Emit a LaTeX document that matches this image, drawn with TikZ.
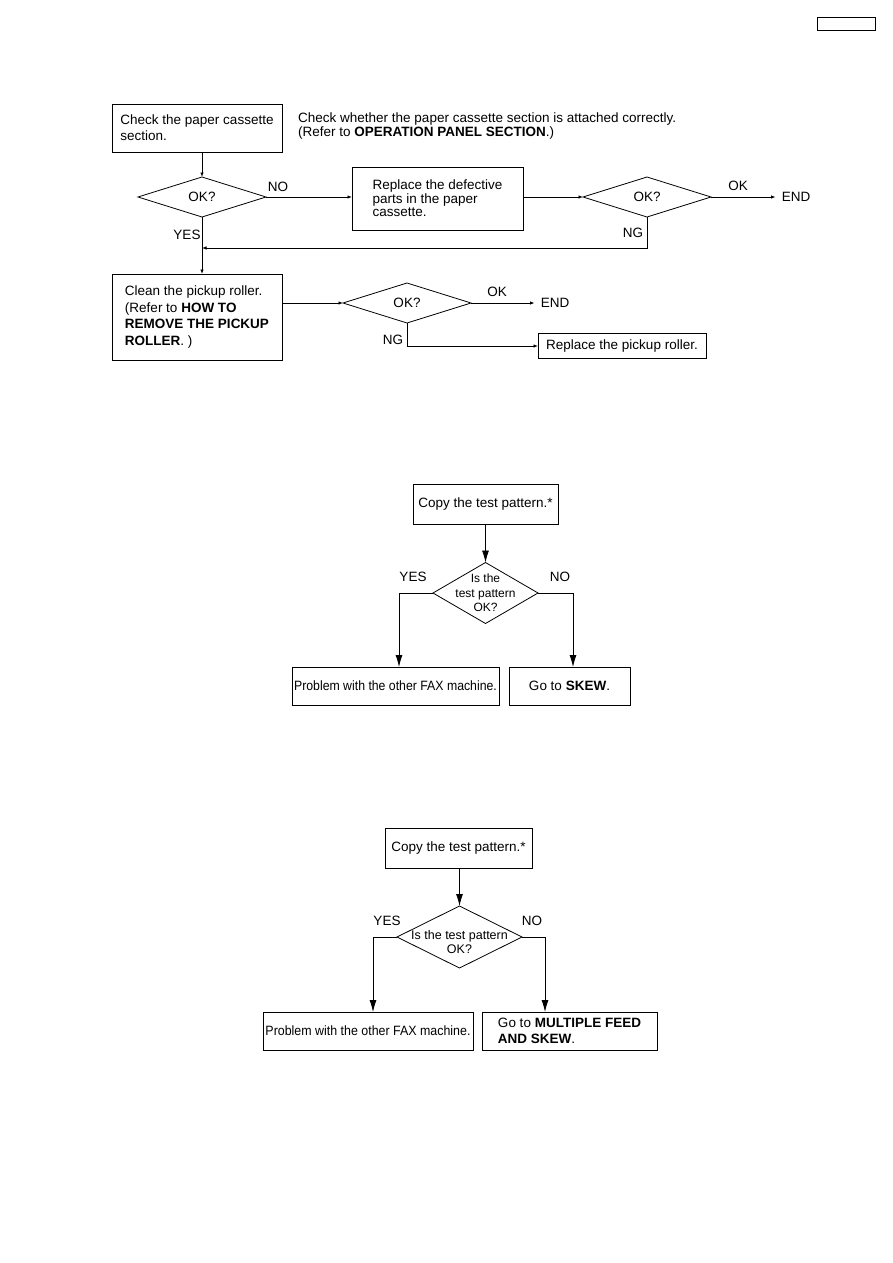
\documentclass[tikz,border=0pt]{standalone}
\usepackage{fontspec}
\setmainfont{Liberation Sans}
\usetikzlibrary{shapes.geometric,arrows.meta}
\newcommand{\fsA}{\fontsize{13.5}{14}\selectfont}
\tikzset{
  box/.style={draw, line width=0.8pt, rectangle, inner sep=0pt, outer sep=0pt, align=left, font=\fsA},
  dia/.style={draw, line width=0.8pt, diamond, inner sep=0pt, outer sep=0pt, font=\fsA},
  lbl/.style={inner sep=0pt, font=\fsA},
  ln/.style={line width=0.8pt},
  arS/.style={ln, -{Latex[length=4.5pt,width=3.5pt]}},
  arL/.style={ln, -{Latex[length=12pt,width=7pt]}},
}
\begin{document}
\begin{tikzpicture}[x=1pt,y=-1pt]
\useasboundingbox[fill=white] (0,0) rectangle (893,1263);

% header box
\node[draw, line width=0.8pt, minimum width=58, minimum height=13, inner sep=0pt] (hdr) at (846,23.5) {};

% ---------- section 1 ----------
\node[box, minimum width=170, minimum height=48, font=\fontsize{13.5}{16}\selectfont] (A) at (197,128) {Check the paper cassette\\section.};
\node[lbl, align=left, anchor=west, font=\fontsize{13.5}{14}\selectfont] (note) at (298,126) {Check whether the paper cassette section is attached correctly.\\(Refer to \textbf{OPERATION PANEL SECTION}.)};
\node[dia, minimum width=128, minimum height=40] (d1) at (202,197) {OK?};
\node[lbl] (no1) at (278,187) {NO};
\node[box, minimum width=171, minimum height=63, font=\fontsize{13.5}{13.5}\selectfont] (B) at (437.5,198.5) {Replace the defective\\parts in the paper\\cassette.};
\node[dia, minimum width=128, minimum height=40] (d2) at (647,197) {OK?};
\node[lbl] (ok1) at (738,186) {OK};
\node[lbl] (end1) at (796,197) {END};
\node[lbl] (ng1) at (633,233) {NG};
\node[lbl] (yes1) at (187,235) {YES};
\coordinate (j1) at (202,248);
\node[box, minimum width=170, minimum height=86, font=\fontsize{13.5}{16.6}\selectfont] (C) at (197,317) {Clean the pickup roller.\\(Refer to \textbf{HOW TO}\\\textbf{REMOVE THE PICKUP}\\\textbf{ROLLER}. )};
\node[dia, minimum width=128, minimum height=40] (d3) at (407,303) {OK?};
\node[lbl] (ok2) at (497,292) {OK};
\node[lbl] (end2) at (555,303) {END};
\node[lbl] (ng2) at (393,340) {NG};
\node[box, minimum width=168, minimum height=25] (D) at (622,346) {Replace the pickup roller.};

\draw[arS] (A.south -| d1.north) -- (d1.north);
\draw[arS] (d1.east) -- (B.west |- d1.east);
\draw[arS] (B.east |- d2.west) -- (d2.west);
\draw[arS] (d2.east) -- ([xshift=-6]end1.west);
\draw[arS] (d2.south) |- (j1);
\draw[arS] (d1.south) -- (C.north -| d1.south);
\draw[arS] (C.east |- d3.west) -- (d3.west);
\draw[arS] (d3.east) -- ([xshift=-6]end2.west);
\draw[arS] (d3.south) |- (D.west);

% ---------- section 2 ----------
\node[box, minimum width=145, minimum height=40] (E) at (485.5,504) {Copy the test pattern.*};
\node[dia, minimum width=105, minimum height=61] (d4) at (485.5,593) {};
\node[lbl, align=center, font=\fontsize{12}{14.5}\selectfont] (d4t) at (485.5,593) {Is the\\test pattern\\OK?};
\node[lbl] (yes2) at (413,577) {YES};
\node[lbl] (no2) at (560,577) {NO};
\node[box, minimum width=207, minimum height=38] (F) at (395.5,686) {\scalebox{0.91}[1]{Problem with the other FAX machine.}};
\node[box, minimum width=121, minimum height=38] (G) at (569.5,686) {Go to \textbf{SKEW}.};

\draw[arL] (E.south) -- (d4.north);
\draw[arL] (d4.west) -| ([xshift=3.5]F.north);
\draw[arL] (d4.east) -| ([xshift=3.5]G.north);

% ---------- section 3 ----------
\node[box, minimum width=147, minimum height=40] (H) at (458.5,848) {Copy the test pattern.*};
\node[dia, minimum width=125, minimum height=62] (d5) at (459.5,937) {};
\node[lbl, align=center, font=\fontsize{12.5}{13.5}\selectfont] (d5t) at (459.5,942) {Is the test pattern\\OK?};
\node[lbl] (yes3) at (387,921) {YES};
\node[lbl] (no3) at (532,921) {NO};
\node[box, minimum width=210, minimum height=38] (I) at (368,1031) {\scalebox{0.92}[1]{Problem with the other FAX machine.}};
\node[box, minimum width=175, minimum height=38, font=\fontsize{13.5}{16}\selectfont] (J) at (569.5,1031) {Go to \textbf{MULTIPLE FEED}\\\textbf{AND SKEW}.};

\draw[arL] (H.south -| d5.north) -- (d5.north);
\draw[arL] (d5.west) -| ([xshift=5]I.north);
\draw[arL] (d5.east) -| ([xshift=-24.5]J.north);
\end{tikzpicture}
\end{document}
